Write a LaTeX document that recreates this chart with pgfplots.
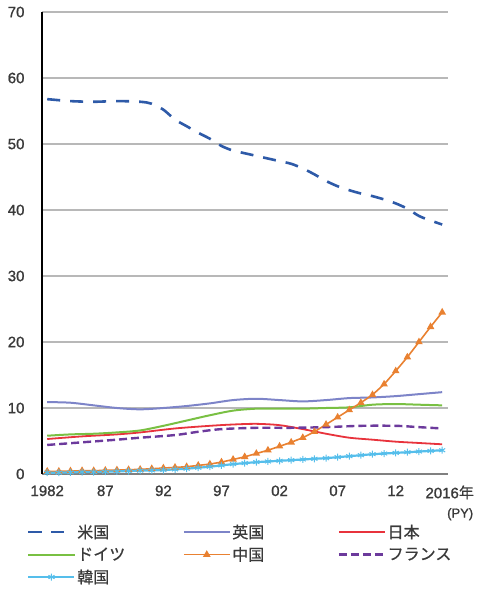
\documentclass[border=0pt]{standalone}
\usepackage{pgfplots}
\pgfplotsset{compat=1.18}
\usepackage{fontspec}
\setmainfont{Liberation Sans}
\newfontfamily\tickfont{Liberation Sans}[FakeBold=1.2]
\newfontfamily\cjk{Noto Sans CJK JP}[FakeBold=0.8]
\definecolor{cUS}{HTML}{2E5AA8}
\definecolor{cUK}{HTML}{7D84C8}
\definecolor{cJP}{HTML}{E8333C}
\definecolor{cDE}{HTML}{79C043}
\definecolor{cCN}{HTML}{E98131}
\definecolor{cFR}{HTML}{6C3A9C}
\definecolor{cKR}{HTML}{55BEEB}
\definecolor{txt}{HTML}{3A3A3A}
\begin{document}
\begin{tikzpicture}
\path[use as bounding box] (0,0) rectangle (480pt,590pt);
\begin{axis}[
  at={(42pt,116pt)}, anchor=south west,
  scale only axis, width=406pt, height=462pt,
  xmin=1981.55, xmax=2016.5, ymin=0, ymax=70,
  ytick={0,10,...,70},
  xtick={1982,1987,1992,1997,2002,2007,2012,2016},
  xticklabels={1982,87,92,97,02,07,12,{2016\rlap{\cjk 年}}},
  axis x line*=bottom, axis y line*=left,
  x axis line style={color=black!50, line width=1.5pt, -},
  y axis line style={color=black, line width=1.5pt, -},
  major tick length=0pt,
  ymajorgrids, grid style={color=black!28, line width=1.1pt},
  tick label style={font=\tickfont\fontsize{15}{15}\selectfont, color=txt},
  /pgf/number format/assume math mode=true,
  yticklabel style={xshift=-14pt},
  xticklabel style={yshift=-8pt},
  clip=false,
  legend columns=3,
  legend cell align=left,
  legend style={at={(axis description cs:-0.037,-0.106)}, anchor=north west,
    draw=none, fill=none, font=\cjk\fontsize{16}{16}\selectfont, text=txt,
    row sep=4.5pt, inner sep=0pt, nodes={inner sep=1.5pt}},
  legend image code/.code={\draw[#1,mark repeat=2,mark phase=2] plot coordinates {(0pt,0pt)(23pt,0pt)(46pt,0pt)};},
]
\addplot[cUS, line width=2.6pt, dash pattern=on 13pt off 10pt, smooth] coordinates {
(1982,56.8)(1984,56.5)(1986,56.4)(1988,56.5)(1990,56.4)(1991,56.1)(1992,55.2)(1993,53.7)(1994,52.7)(1995,51.7)(1996,50.8)(1997,49.7)(1998,49.0)(1999,48.6)(2000,48.2)(2001,47.8)(2002,47.4)(2003,47.0)(2004,46.3)(2005,45.4)(2006,44.4)(2007,43.6)(2008,43.0)(2009,42.5)(2010,42.1)(2011,41.6)(2012,41.0)(2013,40.2)(2014,39.1)(2015,38.4)(2016,37.8)};
\addlegendentry{\makebox[104pt][l]{米国}}
\addplot[cUK, line width=2pt, smooth] coordinates {
(1982,10.9)(1984,10.8)(1986,10.4)(1988,10.0)(1990,9.8)(1992,10.0)(1994,10.3)(1996,10.7)(1998,11.2)(2000,11.4)(2002,11.2)(2004,11.0)(2006,11.2)(2008,11.5)(2010,11.6)(2012,11.8)(2014,12.1)(2016,12.4)};
\addlegendentry{\makebox[104pt][l]{英国}}
\addplot[cJP, line width=1.8pt, smooth] coordinates {
(1982,5.3)(1985,5.7)(1988,6.0)(1990,6.3)(1993,6.9)(1996,7.3)(1998,7.5)(2000,7.6)(2002,7.4)(2004,6.8)(2006,6.1)(2008,5.5)(2010,5.2)(2012,4.9)(2014,4.7)(2016,4.5)};
\addlegendentry{日本}
\addplot[cDE, line width=2pt, smooth] coordinates {
(1982,5.8)(1984,6.0)(1986,6.1)(1988,6.3)(1990,6.6)(1992,7.3)(1994,8.1)(1996,8.9)(1998,9.6)(2000,9.9)(2002,9.9)(2004,9.9)(2006,10.0)(2008,10.1)(2010,10.5)(2012,10.6)(2014,10.5)(2016,10.4)};
\addlegendentry{\makebox[104pt][l]{ドイツ}}
\addplot[cCN, line width=1.6pt, mark=triangle*, mark size=2.8pt, mark options={solid}] coordinates {
(1982,0.4)(1983,0.4)(1984,0.45)(1985,0.5)(1986,0.5)(1987,0.55)(1988,0.6)(1989,0.65)(1990,0.7)(1991,0.8)(1992,0.9)(1993,1.0)(1994,1.1)(1995,1.3)(1996,1.5)(1997,1.8)(1998,2.2)(1999,2.6)(2000,3.1)(2001,3.6)(2002,4.2)(2003,4.8)(2004,5.5)(2005,6.4)(2006,7.5)(2007,8.6)(2008,9.7)(2009,10.8)(2010,12.0)(2011,13.6)(2012,15.6)(2013,17.7)(2014,20.0)(2015,22.3)(2016,24.5)};
\addlegendentry{\makebox[104pt][l]{中国}}
\addplot[cFR, line width=2.4pt, dash pattern=on 8pt off 4pt, smooth] coordinates {
(1982,4.4)(1985,4.8)(1988,5.2)(1990,5.5)(1993,5.9)(1995,6.4)(1997,6.8)(2000,7.0)(2003,7.0)(2006,7.1)(2009,7.3)(2012,7.3)(2014,7.1)(2016,6.9)};
\addlegendentry{フランス}
\addplot[cKR, line width=2.2pt, mark=asterisk, mark size=3.5pt, mark options={solid, line width=1pt}] coordinates {
(1982,0.2)(1983,0.2)(1984,0.25)(1985,0.3)(1986,0.3)(1987,0.35)(1988,0.4)(1989,0.45)(1990,0.5)(1991,0.55)(1992,0.6)(1993,0.7)(1994,0.8)(1995,0.95)(1996,1.1)(1997,1.3)(1998,1.5)(1999,1.65)(2000,1.8)(2001,1.9)(2002,2.0)(2003,2.1)(2004,2.2)(2005,2.3)(2006,2.4)(2007,2.55)(2008,2.7)(2009,2.85)(2010,3.0)(2011,3.1)(2012,3.2)(2013,3.3)(2014,3.4)(2015,3.5)(2016,3.6)};
\addlegendentry{韓国}
\node[font=\tickfont\fontsize{13}{13}\selectfont, color=txt] at (axis description cs:1.03,-0.087) {(PY)};
\end{axis}
\end{tikzpicture}
\end{document}
